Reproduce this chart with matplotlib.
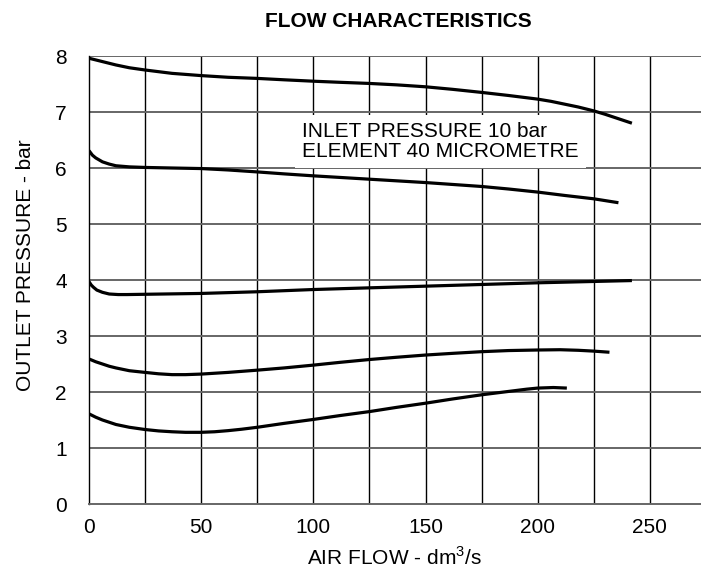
import matplotlib
matplotlib.use('Agg')
import matplotlib.pyplot as plt

plt.rcParams['font.family'] = ['Liberation Sans', 'DejaVu Sans']
plt.rcParams['mathtext.fontset'] = 'custom'
plt.rcParams['mathtext.rm'] = 'Liberation Sans'

# curves (air flow dm3/s, outlet pressure bar)
flow_1 = [0, 6, 12, 18, 25, 37, 50, 62, 75, 87, 100, 112, 125, 137, 150, 162,
          175, 187, 200, 206, 212, 218, 225, 230, 236, 242]
pres_1 = [7.96, 7.9, 7.84, 7.79, 7.75, 7.69, 7.65, 7.62, 7.6, 7.575, 7.55, 7.53,
          7.51, 7.485, 7.45, 7.405, 7.35, 7.295, 7.23, 7.19, 7.14, 7.09, 7.02,
          6.96, 6.88, 6.8]

flow_2 = [0, 1.5, 3, 6, 9, 12, 18, 25, 37, 50, 62, 75, 87, 100, 125, 150, 175,
          187, 200, 212, 225, 236]
pres_2 = [6.31, 6.23, 6.18, 6.11, 6.07, 6.04, 6.02, 6.01, 6.0, 5.99, 5.965, 5.93,
          5.895, 5.86, 5.8, 5.74, 5.67, 5.625, 5.57, 5.51, 5.45, 5.38]

flow_3 = [0, 1, 2, 3.5, 6, 9, 13, 17, 25, 50, 75, 100, 150, 200, 242]
pres_3 = [3.97, 3.91, 3.87, 3.82, 3.78, 3.75, 3.74, 3.74, 3.745, 3.76, 3.79,
          3.83, 3.89, 3.95, 3.99]

flow_4 = [0, 3, 6, 9, 12, 18, 25, 31, 37, 43, 50, 62, 75, 87, 100, 112, 125,
          137, 150, 162, 175, 187, 200, 210, 218, 225, 232]
pres_4 = [2.59, 2.54, 2.5, 2.46, 2.43, 2.38, 2.35, 2.325, 2.31, 2.31, 2.32,
          2.35, 2.39, 2.43, 2.48, 2.53, 2.58, 2.62, 2.66, 2.69, 2.72, 2.74,
          2.75, 2.755, 2.745, 2.73, 2.71]

flow_5 = [0, 3, 6, 9, 12, 18, 25, 31, 37, 43, 50, 56, 62, 68, 75, 87, 100, 112,
          125, 137, 150, 162, 175, 187, 195, 200, 207, 213]
pres_5 = [1.61, 1.55, 1.5, 1.46, 1.42, 1.37, 1.33, 1.305, 1.29, 1.28, 1.28,
          1.29, 1.31, 1.335, 1.37, 1.44, 1.51, 1.58, 1.65, 1.725, 1.8, 1.875,
          1.95, 2.01, 2.05, 2.07, 2.08, 2.07]

curves = [(flow_1, pres_1), (flow_2, pres_2), (flow_3, pres_3),
          (flow_4, pres_4), (flow_5, pres_5)]

x_ticks = [0, 50, 100, 150, 200, 250]
x_grid = [25, 50, 75, 100, 125, 150, 175, 200, 225, 250]
y_ticks = [0, 1, 2, 3, 4, 5, 6, 7, 8]

fig = plt.figure(figsize=(7.01, 5.70), dpi=100)
ax = fig.add_axes([89 / 701, 66 / 570, 1 - 89 / 701, 448 / 570])

for xg in x_grid:
    ax.axvline(xg, color='black', lw=1.0, zorder=1)
for yg in y_ticks[1:]:
    ax.axhline(yg, color='#666666', lw=1.4, zorder=1)

for fx, py in curves:
    ax.plot(fx, py, color='black', lw=2.3, solid_capstyle='butt',
            solid_joinstyle='round', zorder=3)

ax.set_xlim(0, 272.8)
ax.set_ylim(0, 8)
ax.set_xticks(x_ticks)
ax.set_yticks(y_ticks)
ax.tick_params(length=0, labelsize=15)
ax.tick_params(axis='x', pad=10)
ax.tick_params(axis='y', pad=16)

ax.spines['right'].set_visible(False)
ax.spines['top'].set_visible(False)
ax.spines['left'].set_color('black')
ax.spines['left'].set_linewidth(1.0)
ax.spines['bottom'].set_color('#666666')
ax.spines['bottom'].set_linewidth(1.4)

ax.text(95, 6.2, 'INLET PRESSURE 10 bar\nELEMENT 40 MICROMETRE', fontsize=15,
        ha='left', va='baseline', linespacing=1.05, zorder=2,
        bbox=dict(facecolor='white', edgecolor='none', pad=5))

fig.text(398 / 701, 1 - 27.3 / 570, 'FLOW CHARACTERISTICS', fontsize=15,
         fontweight='bold', ha='center', va='baseline')
fig.text(394.5 / 701, 5 / 570, 'AIR FLOW - dm$^3$/s', fontsize=15,
         ha='center', va='baseline')
fig.text(35 / 701, 1 - 265 / 570, 'OUTLET PRESSURE - bar', fontsize=15,
         rotation=90, ha='right', va='center')

fig.savefig('out.png', dpi=100)
